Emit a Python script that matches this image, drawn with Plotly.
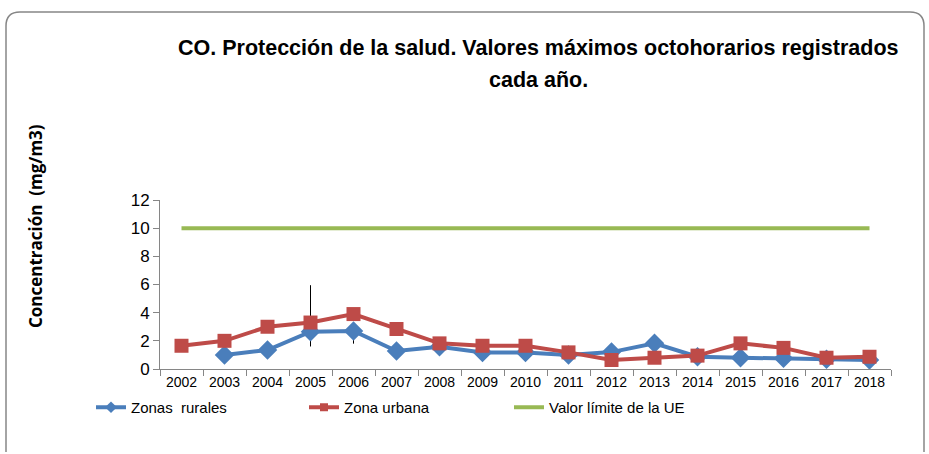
import plotly.graph_objects as go

years = [str(y) for y in range(2002, 2019)]
rurales = [None, 1.0, 1.35, 2.65, 2.7, 1.28, 1.58, 1.18, 1.18, 1.0, 1.2, 1.82, 0.87, 0.8, 0.76, 0.7, 0.64]
urbana = [1.65, 2.0, 3.0, 3.3, 3.9, 2.84, 1.82, 1.65, 1.65, 1.18, 0.64, 0.8, 0.95, 1.82, 1.5, 0.8, 0.87]
limite = [10] * 17
err_plus = [0, 0, 0, 3.3, 0, 0, 0, 0, 0, 0, 0, 0, 0, 0, 0, 0, 0]
err_minus = [0, 0, 0, 1.05, 0.9, 0, 0, 0, 0, 0, 0, 0, 0, 0, 0, 0, 0]
names = ["Zonas  rurales", "Zona urbana", "Valor límite de la UE"]

W, H = 929, 454
L, R, T, B = 160, 891, 200, 369

def px(x):
    return (x - L) / (R - L)

def py(y):
    return (B - y) / (B - T)

BLUE = "#4A7EBB"
RED = "#BE4B48"
GREEN = "#98B954"

fig = go.Figure()
fig.add_trace(go.Scatter(
    x=years, y=rurales, mode="lines+markers", showlegend=False,
    line=dict(color=BLUE, width=4), marker=dict(symbol="diamond", size=15, color=BLUE),
    error_y=dict(type="data", array=err_plus, arrayminus=err_minus, color="black", thickness=1, width=0)))
fig.add_trace(go.Scatter(
    x=years, y=urbana, mode="lines+markers", showlegend=False,
    line=dict(color=RED, width=4), marker=dict(symbol="square", size=14, color=RED)))
fig.add_trace(go.Scatter(
    x=years, y=limite, mode="lines", showlegend=False,
    line=dict(color=GREEN, width=4)))

# legend entries (small markers as in the reference legend)
fig.add_trace(go.Scatter(x=[None], y=[None], name=names[0], mode="lines+markers",
                         line=dict(color=BLUE, width=4), marker=dict(symbol="diamond", size=9, color=BLUE),
                         legend="legend"))
fig.add_trace(go.Scatter(x=[None], y=[None], name=names[1], mode="lines+markers",
                         line=dict(color=RED, width=4), marker=dict(symbol="square", size=8, color=RED),
                         legend="legend2"))
fig.add_trace(go.Scatter(x=[None], y=[None], name=names[2], mode="lines",
                         line=dict(color=GREEN, width=4), legend="legend3"))

font = "Liberation Sans, Arial, sans-serif"
leg_common = dict(orientation="h", yanchor="top", xanchor="left", y=py(391),
                  font=dict(family=font, size=15, color="#000"), bgcolor="rgba(0,0,0,0)")

x0, y0, x1, y1 = px(6), py(12), px(924), py(452)
rx = 14 / (R - L)
ry = 14 / (B - T)
path = (f"M {x0},{y1} L {x0},{y0 - ry} Q {x0},{y0} {x0 + rx},{y0} "
        f"L {x1 - rx},{y0} Q {x1},{y0} {x1},{y0 - ry} L {x1},{y1}")

fig.update_layout(
    width=W, height=H,
    margin=dict(l=L, r=W - R, t=T, b=H - B),
    paper_bgcolor="white", plot_bgcolor="white",
    font=dict(family=font, size=14, color="#000"),
    showlegend=True,
    legend=dict(leg_common, x=px(91)),
    legend2=dict(leg_common, x=px(304)),
    legend3=dict(leg_common, x=px(509)),
    xaxis=dict(type="category", range=[-0.5, 16.5], showline=True, linecolor="#868686", linewidth=1,
               ticks="outside", tickson="boundaries", ticklen=6, tickcolor="#868686",
               showgrid=False, tickfont=dict(size=14), fixedrange=True),
    yaxis=dict(range=[0, 12], dtick=2, showline=True, linecolor="#868686", linewidth=1,
               ticks="outside", ticklen=6, tickcolor="#868686", showgrid=False,
               zeroline=False, tickfont=dict(size=17), fixedrange=True),
    shapes=[dict(type="path", xref="paper", yref="paper", path=path,
                 line=dict(color="#868686", width=1.5), layer="below")],
    annotations=[
        dict(text="<b>CO. Protección de la salud. Valores máximos octohorarios registrados</b>",
             xref="paper", yref="paper", x=px(538), y=py(48), showarrow=False,
             xanchor="center", yanchor="middle", font=dict(size=21.5, family=font)),
        dict(text="<b>cada año.</b>", xref="paper", yref="paper", x=px(538), y=py(80),
             showarrow=False, xanchor="center", yanchor="middle", font=dict(size=21.5, family=font)),
        dict(text="<b>Concentración  (mg/m3)</b>", xref="paper", yref="paper", x=px(35), y=py(226),
             showarrow=False, textangle=-90, xanchor="center", yanchor="middle",
             font=dict(size=17, family="Open Sans, " + font)),
    ],
)

fig.write_html("out.html", config={"displayModeBar": False},
               post_script="document.body.style.margin='0px';")
